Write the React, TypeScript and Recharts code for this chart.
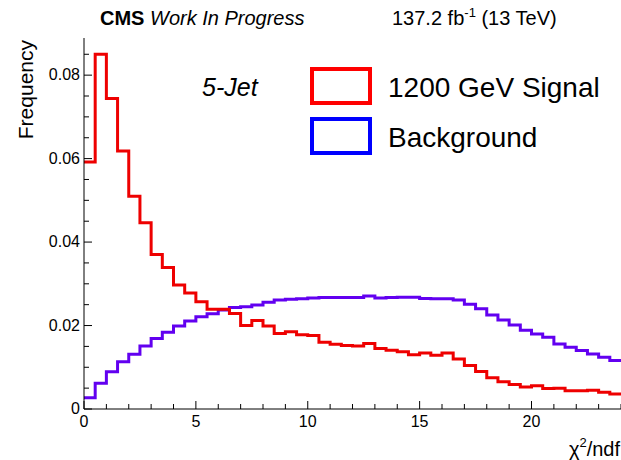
import React from 'react'
import { LineChart, Line, XAxis, YAxis } from 'recharts'

// histogram bin contents, bins of 0.5 from 0 to 24
const signal = [
  0.0592, 0.085, 0.0744, 0.0618, 0.051, 0.0446, 0.037, 0.0339, 0.0297, 0.0278,
  0.0257, 0.0239, 0.0239, 0.0229, 0.02, 0.0212, 0.0199, 0.0181, 0.0185, 0.0178,
  0.0176, 0.016, 0.0155, 0.0152, 0.0151, 0.0157, 0.0145, 0.0141, 0.0137, 0.013,
  0.0134, 0.0129, 0.0134, 0.012, 0.0104, 0.009, 0.0075, 0.0065, 0.0059, 0.0053,
  0.0056, 0.0049, 0.005, 0.0044, 0.0044, 0.0045, 0.004, 0.0036,
]
const background = [
  0.0027, 0.0062, 0.0089, 0.0113, 0.0131, 0.0151, 0.0169, 0.0184, 0.0199, 0.0211,
  0.0221, 0.0228, 0.0237, 0.0243, 0.0245, 0.0249, 0.0256, 0.0261, 0.0263, 0.0264,
  0.0266, 0.0267, 0.0267, 0.0267, 0.0267, 0.0271, 0.0266, 0.0267, 0.0268, 0.0268,
  0.0265, 0.0264, 0.0264, 0.0261, 0.0251, 0.024, 0.0225, 0.0213, 0.0201, 0.0189,
  0.018, 0.0172, 0.0156, 0.0148, 0.014, 0.0132, 0.0124, 0.0116,
]
const binWidth = 0.5
const xTicks = [0, 1, 2, 3, 4, 5, 6, 7, 8, 9, 10, 11, 12, 13, 14, 15, 16, 17, 18, 19, 20, 21, 22, 23, 24]
const xMajor = [0, 5, 10, 15, 20]
const yTicks = [
  0, 0.005, 0.01, 0.015, 0.02, 0.025, 0.03, 0.035, 0.04, 0.045, 0.05, 0.055, 0.06,
  0.065, 0.07, 0.075, 0.08, 0.085,
]
const yMajor = [0, 0.02, 0.04, 0.06, 0.08]

const FONT = '"Liberation Sans", Arial, Helvetica, sans-serif'
const RED = '#ee0000'
const VIOLET = '#6200f0'

// bin edges; last edge repeats the last bin so the step closes at 24
const data = signal.map((s, i) => ({ x: i * binWidth, sig: s, bkg: background[i] }))
data.push({ x: signal.length * binWidth, sig: signal[signal.length - 1], bkg: background[background.length - 1] })

const AXIS_X = 84
const AXIS_Y = 409

const XTick = (props: any) => {
  const { x, payload } = props
  const major = xMajor.includes(payload.value)
  return (
    <g>
      <line x1={x} x2={x} y1={AXIS_Y} y2={AXIS_Y - (major ? 8 : 5)} stroke="#000" strokeWidth={1} />
      {major && (
        <text x={x} y={427} textAnchor="middle" fontSize={16} fontFamily={FONT} fill="#000">
          {payload.value}
        </text>
      )}
    </g>
  )
}

const YTick = (props: any) => {
  const { y, payload } = props
  const major = yMajor.some((m) => Math.abs(m - payload.value) < 1e-9)
  return (
    <g>
      <line x1={AXIS_X} x2={AXIS_X + (major ? 8 : 5)} y1={y} y2={y} stroke="#000" strokeWidth={1} />
      {major && (
        <text x={80} y={y + 5} textAnchor="end" fontSize={16} fontFamily={FONT} fill="#000">
          {payload.value}
        </text>
      )}
    </g>
  )
}

export default function App() {
  return (
    <div style={{ position: 'absolute', left: 0, top: 0, width: 621, height: 460, background: '#fff' }}>
      <LineChart
        width={621}
        height={460}
        data={data}
        margin={{ top: 38, right: 0, bottom: 21, left: 0 }}
      >
        <XAxis
          dataKey="x"
          type="number"
          domain={[0, 24]}
          ticks={xTicks}
          interval={0}
          tickLine={false}
          tick={<XTick />}
          height={30}
          stroke="#000"
          allowDataOverflow
        />
        <YAxis
          type="number"
          domain={[0, 0.0889]}
          ticks={yTicks}
          interval={0}
          tickLine={false}
          tick={<YTick />}
          width={84}
          stroke="#000"
          allowDataOverflow
        />
        <Line
          type="stepAfter"
          dataKey="bkg"
          stroke={VIOLET}
          strokeWidth={3}
          dot={false}
          isAnimationActive={false}
        />
        <Line
          type="stepAfter"
          dataKey="sig"
          stroke={RED}
          strokeWidth={3}
          dot={false}
          isAnimationActive={false}
        />
      </LineChart>
      <svg
        width={621}
        height={460}
        style={{ position: 'absolute', left: 0, top: 0, pointerEvents: 'none' }}
        fontFamily={FONT}
      >
        <text x={100} y={25} fontSize={20} fill="#000">
          <tspan fontWeight="bold">CMS</tspan>
          <tspan fontStyle="italic"> Work In Progress</tspan>
        </text>
        <text x={392} y={25} fontSize={20} fill="#000">
          <tspan>137.2 fb</tspan>
          <tspan dy={-8} fontSize={13}>-1</tspan>
          <tspan dy={8}> (13 TeV)</tspan>
        </text>
        <text
          x={0}
          y={0}
          transform="translate(33, 40) rotate(-90)"
          textAnchor="end"
          fontSize={21}
          fill="#000"
        >
          Frequency
        </text>
        <text x={620} y={456} textAnchor="end" fontSize={20} fill="#000">
          <tspan>χ</tspan>
          <tspan dy={-9} fontSize={13}>2</tspan>
          <tspan dy={9}>/ndf</tspan>
        </text>
        <text x={202} y={96} fontSize={25} fontStyle="italic" fill="#000">
          5-Jet
        </text>
        <rect x={312} y={69} width={58} height={34} fill="none" stroke="#ff0000" strokeWidth={4} />
        <rect x={312} y={119} width={58} height={34} fill="none" stroke="#0000ff" strokeWidth={4} />
        <text x={388} y={97} fontSize={28} fill="#000">
          1200 GeV Signal
        </text>
        <text x={388} y={147} fontSize={28} fill="#000">
          Background
        </text>
      </svg>
    </div>
  )
}
